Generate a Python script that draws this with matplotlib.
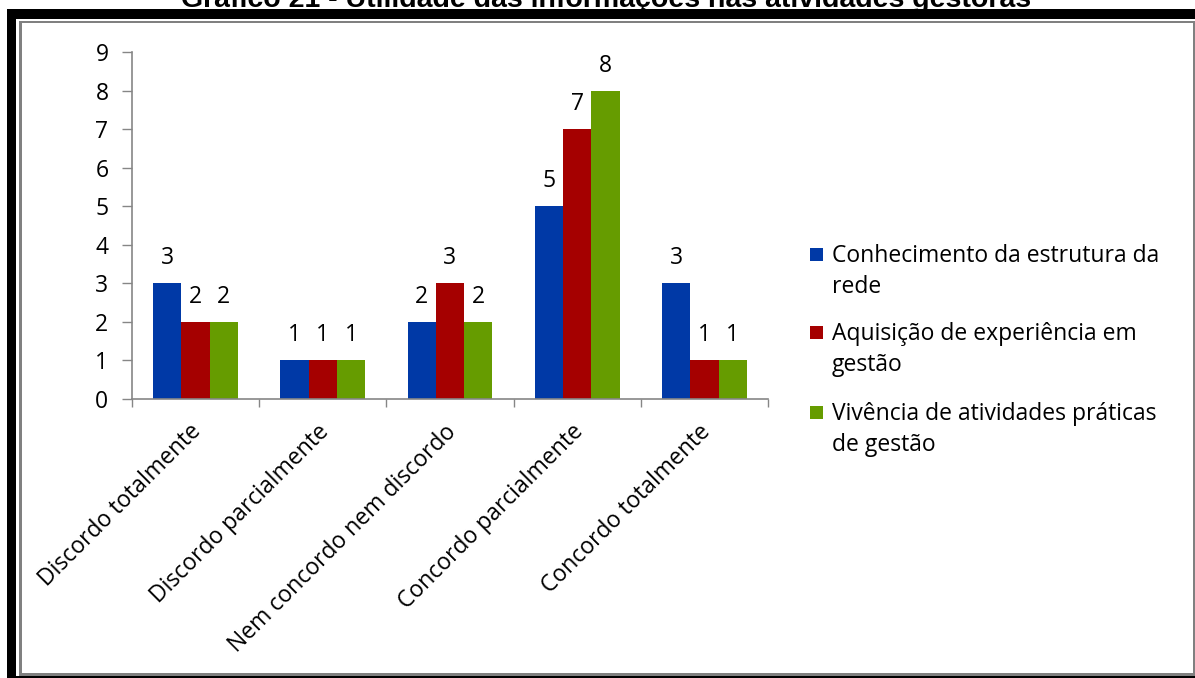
import numpy as np
import matplotlib
matplotlib.use('Agg')
import matplotlib.pyplot as plt
from matplotlib.patches import Rectangle
import matplotlib.transforms as mtransforms

W, H = 1195, 678

categories = ['Discordo totalmente', 'Discordo parcialmente', 'Nem concordo nem discordo',
              'Concordo parcialmente', 'Concordo totalmente']
series_names = ['Conhecimento da estrutura da\nrede',
                'Aquisição de experiência em\ngestão',
                'Vivência de atividades práticas\nde gestão']
conhecimento = [3, 1, 2, 5, 3]
aquisicao = [2, 1, 3, 7, 1]
vivencia = [2, 1, 2, 8, 1]
values = [conhecimento, aquisicao, vivencia]
colors = ['#0039A6', '#A50000', '#669C00']
title = 'Gráfico 21 - Utilidade das informações nas atividades gestoras'

FONT = 'Open Sans'
FS = 16.5
AXIS_GRAY = '#868686'


def fx(px):
    return px / W


def fy(py):
    return 1 - py / H


fig = plt.figure(figsize=(W / 100, H / 100), dpi=100)
fig.patch.set_facecolor('white')

# frame around the chart (black band, thin white gap, gray line)
def frame_rect(x0, y0, x1, y1, color):
    fig.add_artist(Rectangle((fx(x0), fy(y1)), fx(x1) - fx(x0), fy(y0) - fy(y1),
                             transform=fig.transFigure, facecolor=color,
                             edgecolor='none', zorder=0))

frame_rect(7, 9, W + 5, H + 5, 'black')
frame_rect(16, 19, W + 5, 676, 'white')
frame_rect(19, 21, W - 0.5, 676, '#808080')
frame_rect(22, 23, 1193, 673, 'white')

# title, cut off at the top of the image as in the source
fig.text(0.507, fy(7), title, ha='center', va='baseline', fontsize=20.5,
         fontweight='bold', family='Liberation Sans', color='black')

ax = fig.add_axes([fx(132), fy(399), fx(768) - fx(132), fy(52) - fy(399)])
ax.set_facecolor('none')

x = np.arange(len(categories))
bw = 0.2225
for i, (vals, col) in enumerate(zip(values, colors)):
    pos = x + (i - 1) * bw
    bars = ax.bar(pos, vals, width=bw, color=col, edgecolor='none', zorder=2)
    for b, v in zip(bars, vals):
        ax.annotate(str(v), (b.get_x() + b.get_width() / 2, v),
                    xytext=(0, 18), textcoords='offset points',
                    ha='center', va='center', fontsize=FS, family=FONT)

ax.set_xlim(-0.5, len(categories) - 0.5)
ax.set_ylim(0, 9)
ax.set_yticks(range(10))
ax.set_xticks(np.arange(len(categories) + 1) - 0.5)
ax.set_xticklabels([])
ax.set_xticks(x, minor=True)
ax.set_xticklabels(categories, minor=True, rotation=45, ha='right', va='top',
                   rotation_mode='anchor', fontsize=FS, family=FONT)
ax.tick_params(axis='x', which='minor', length=0, pad=15)
ax.tick_params(axis='x', which='major', length=6, width=1, color=AXIS_GRAY)
ax.tick_params(axis='y', length=7, width=1, color=AXIS_GRAY, pad=10,
               labelsize=FS)
for lab in ax.get_yticklabels():
    lab.set_family(FONT)
offset = mtransforms.ScaledTranslation(-6 / 100, 0, fig.dpi_scale_trans)
for lab in ax.get_xticklabels(minor=True):
    lab.set_transform(lab.get_transform() + offset)

for s in ['top', 'right']:
    ax.spines[s].set_visible(False)
for s in ['left', 'bottom']:
    ax.spines[s].set_color(AXIS_GRAY)
    ax.spines[s].set_linewidth(1.2)

# legend drawn by hand so that the square sits on the first line
leg_baselines = [262, 340, 420]
for name, col, yb in zip(series_names, colors, leg_baselines):
    first, second = name.split('\n')
    fig.add_artist(Rectangle((fx(810), fy(yb - 1)), fx(13), 13 / H,
                             transform=fig.transFigure, facecolor=col,
                             edgecolor='none'))
    fig.text(fx(832), fy(yb), first, ha='left', va='baseline',
             fontsize=FS, family=FONT)
    fig.text(fx(832), fy(yb + 31), second, ha='left', va='baseline',
             fontsize=FS, family=FONT)

fig.savefig('out.png', dpi=100)
